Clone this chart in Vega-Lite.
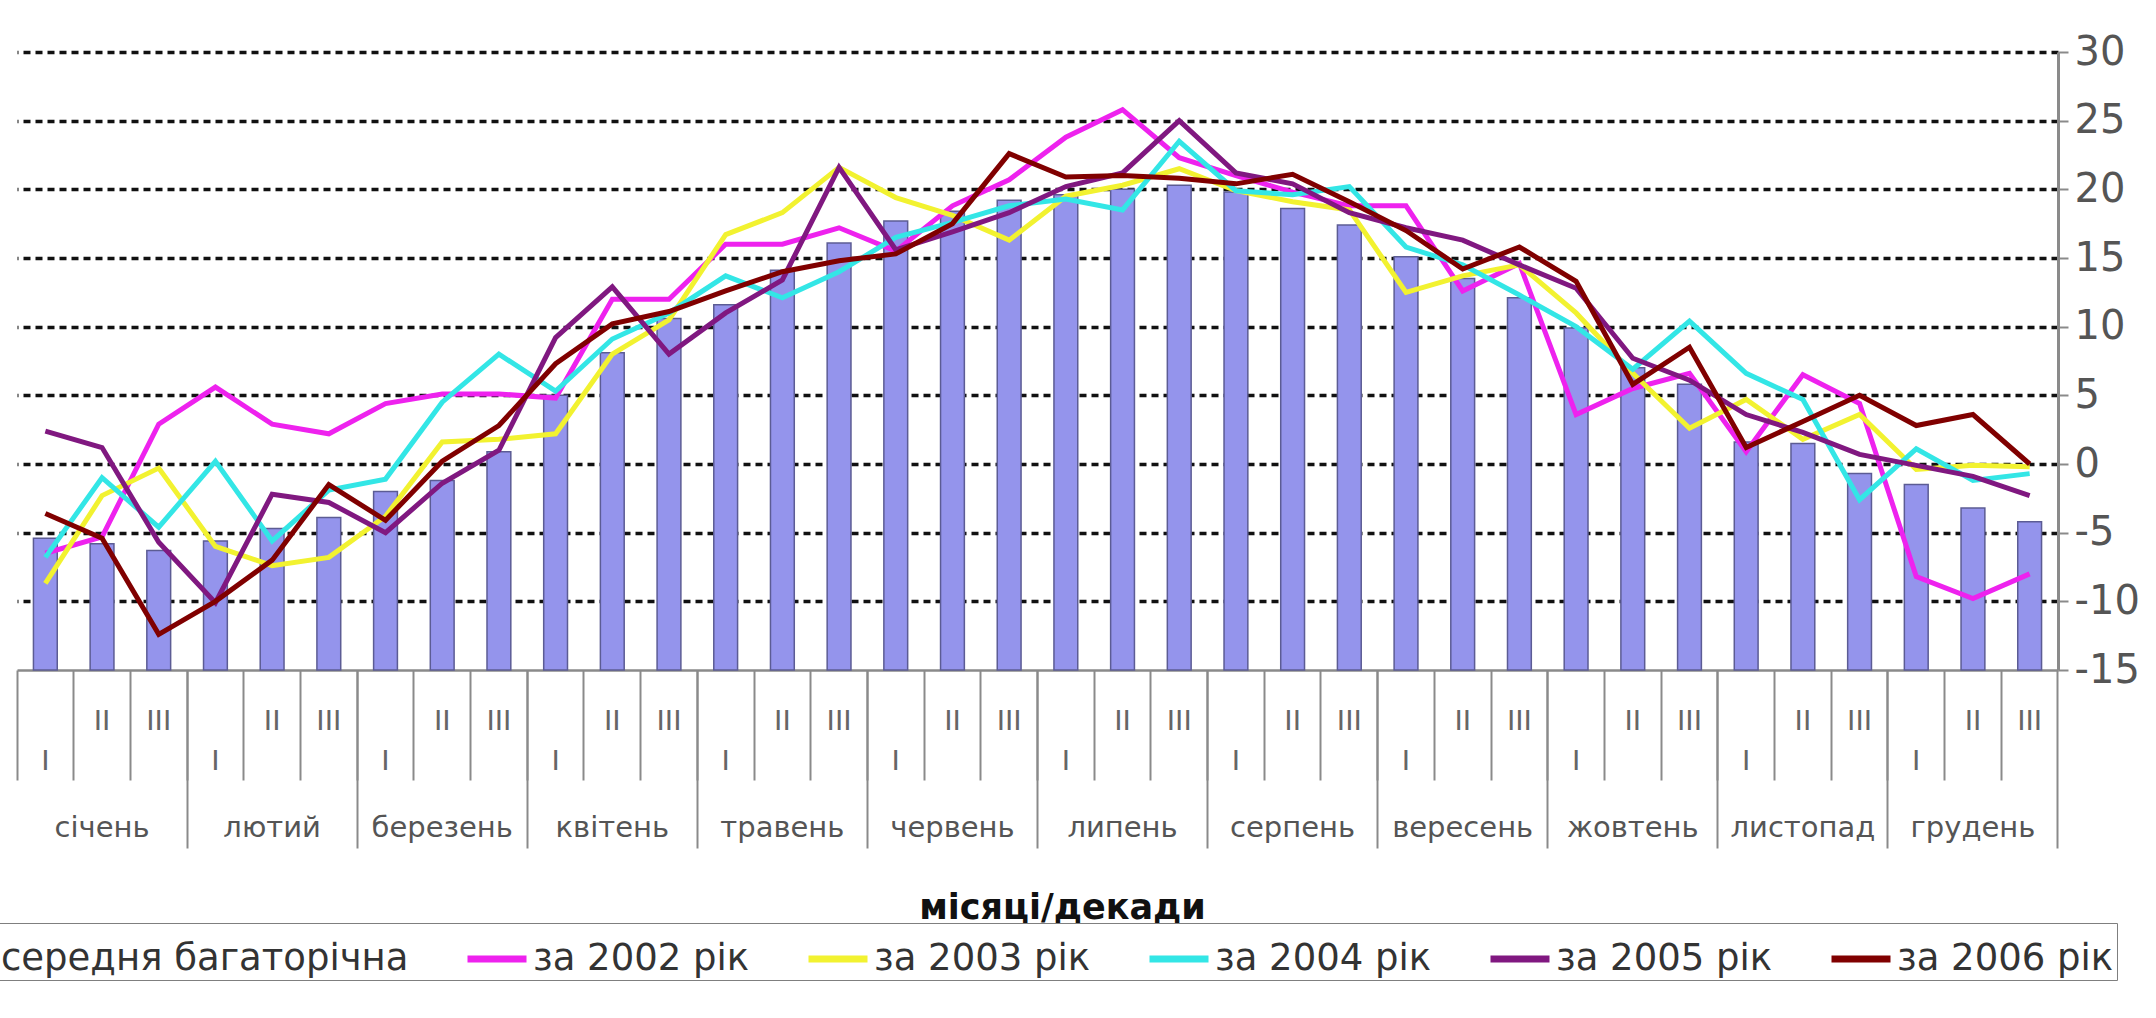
{
  "$schema": "https://vega.github.io/schema/vega-lite/v6.json",
  "width": 2041,
  "height": 618,
  "autosize": {"type": "none"},
  "padding": {"left": 17, "top": 52, "right": 98, "bottom": 348},
  "background": "white",
  "config": {"view": {"stroke": null}},
  "data": {
    "values": [
      {"d": "1 I", "avg": -5.4, "за 2002 рік": -6.5, "за 2003 рік": -8.7, "за 2004 рік": -6.8, "за 2005 рік": 2.4, "за 2006 рік": -3.6},
      {"d": "1 II", "avg": -5.8, "за 2002 рік": -5.3, "за 2003 рік": -2.3, "за 2004 рік": -1.0, "за 2005 рік": 1.2, "за 2006 рік": -5.4},
      {"d": "1 III", "avg": -6.3, "за 2002 рік": 2.9, "за 2003 рік": -0.3, "за 2004 рік": -4.6, "за 2005 рік": -5.7, "за 2006 рік": -12.4},
      {"d": "2 I", "avg": -5.6, "за 2002 рік": 5.6, "за 2003 рік": -6.0, "за 2004 рік": 0.2, "за 2005 рік": -10.1, "за 2006 рік": -10.0},
      {"d": "2 II", "avg": -4.7, "за 2002 рік": 2.9, "за 2003 рік": -7.4, "за 2004 рік": -5.6, "за 2005 рік": -2.2, "за 2006 рік": -7.0},
      {"d": "2 III", "avg": -3.9, "за 2002 рік": 2.2, "за 2003 рік": -6.8, "за 2004 рік": -1.9, "за 2005 рік": -2.8, "за 2006 рік": -1.5},
      {"d": "3 I", "avg": -2.0, "за 2002 рік": 4.4, "за 2003 рік": -3.8, "за 2004 рік": -1.1, "за 2005 рік": -5.0, "за 2006 рік": -4.1},
      {"d": "3 II", "avg": -1.2, "за 2002 рік": 5.1, "за 2003 рік": 1.6, "за 2004 рік": 4.5, "за 2005 рік": -1.4, "за 2006 рік": 0.2},
      {"d": "3 III", "avg": 0.9, "за 2002 рік": 5.1, "за 2003 рік": 1.8, "за 2004 рік": 8.0, "за 2005 рік": 1.0, "за 2006 рік": 2.8},
      {"d": "4 I", "avg": 5.0, "за 2002 рік": 4.8, "за 2003 рік": 2.2, "за 2004 рік": 5.3, "за 2005 рік": 9.2, "за 2006 рік": 7.3},
      {"d": "4 II", "avg": 8.1, "за 2002 рік": 12.0, "за 2003 рік": 8.0, "за 2004 рік": 9.1, "за 2005 рік": 12.9, "за 2006 рік": 10.2},
      {"d": "4 III", "avg": 10.6, "за 2002 рік": 12.0, "за 2003 рік": 10.5, "за 2004 рік": 11.0, "за 2005 рік": 8.0, "за 2006 рік": 11.1},
      {"d": "5 I", "avg": 11.6, "за 2002 рік": 16.0, "за 2003 рік": 16.7, "за 2004 рік": 13.7, "за 2005 рік": 11.0, "за 2006 рік": 12.6},
      {"d": "5 II", "avg": 14.1, "за 2002 рік": 16.0, "за 2003 рік": 18.3, "за 2004 рік": 12.1, "за 2005 рік": 13.4, "за 2006 рік": 14.0},
      {"d": "5 III", "avg": 16.1, "за 2002 рік": 17.2, "за 2003 рік": 21.6, "за 2004 рік": 14.0, "за 2005 рік": 21.6, "за 2006 рік": 14.8},
      {"d": "6 I", "avg": 17.7, "за 2002 рік": 15.5, "за 2003 рік": 19.4, "за 2004 рік": 16.5, "за 2005 рік": 15.6, "за 2006 рік": 15.3},
      {"d": "6 II", "avg": 18.4, "за 2002 рік": 18.8, "за 2003 рік": 18.1, "за 2004 рік": 17.6, "за 2005 рік": 16.9, "за 2006 рік": 17.5},
      {"d": "6 III", "avg": 19.2, "за 2002 рік": 20.7, "за 2003 рік": 16.3, "за 2004 рік": 18.8, "за 2005 рік": 18.3, "за 2006 рік": 22.6},
      {"d": "7 I", "avg": 19.6, "за 2002 рік": 23.8, "за 2003 рік": 19.5, "за 2004 рік": 19.3, "за 2005 рік": 20.2, "за 2006 рік": 20.9},
      {"d": "7 II", "avg": 20.0, "за 2002 рік": 25.8, "за 2003 рік": 20.3, "за 2004 рік": 18.5, "за 2005 рік": 21.2, "за 2006 рік": 21.0},
      {"d": "7 III", "avg": 20.3, "за 2002 рік": 22.3, "за 2003 рік": 21.5, "за 2004 рік": 23.5, "за 2005 рік": 25.0, "за 2006 рік": 20.8},
      {"d": "8 I", "avg": 19.8, "за 2002 рік": 21.0, "за 2003 рік": 19.9, "за 2004 рік": 19.9, "за 2005 рік": 21.2, "за 2006 рік": 20.4},
      {"d": "8 II", "avg": 18.6, "за 2002 рік": 19.8, "за 2003 рік": 19.1, "за 2004 рік": 19.6, "за 2005 рік": 20.4, "за 2006 рік": 21.1},
      {"d": "8 III", "avg": 17.4, "за 2002 рік": 18.8, "за 2003 рік": 18.5, "за 2004 рік": 20.2, "за 2005 рік": 18.3, "за 2006 рік": 19.1},
      {"d": "9 I", "avg": 15.1, "за 2002 рік": 18.8, "за 2003 рік": 12.5, "за 2004 рік": 15.8, "за 2005 рік": 17.2, "за 2006 рік": 17.0},
      {"d": "9 II", "avg": 13.5, "за 2002 рік": 12.6, "за 2003 рік": 13.7, "за 2004 рік": 14.5, "за 2005 рік": 16.3, "за 2006 рік": 14.2},
      {"d": "9 III", "avg": 12.1, "за 2002 рік": 14.6, "за 2003 рік": 14.5, "за 2004 рік": 12.3, "за 2005 рік": 14.5, "за 2006 рік": 15.8},
      {"d": "10 I", "avg": 9.9, "за 2002 рік": 3.6, "за 2003 рік": 11.0, "за 2004 рік": 10.0, "за 2005 рік": 12.8, "за 2006 рік": 13.3},
      {"d": "10 II", "avg": 7.0, "за 2002 рік": 5.5, "за 2003 рік": 6.6, "за 2004 рік": 6.9, "за 2005 рік": 7.7, "за 2006 рік": 5.8},
      {"d": "10 III", "avg": 5.8, "за 2002 рік": 6.6, "за 2003 рік": 2.6, "за 2004 рік": 10.4, "за 2005 рік": 6.1, "за 2006 рік": 8.5},
      {"d": "11 I", "avg": 1.6, "за 2002 рік": 0.9, "за 2003 рік": 4.7, "за 2004 рік": 6.6, "за 2005 рік": 3.6, "за 2006 рік": 1.2},
      {"d": "11 II", "avg": 1.5, "за 2002 рік": 6.5, "за 2003 рік": 1.8, "за 2004 рік": 4.7, "за 2005 рік": 2.3, "за 2006 рік": 3.1},
      {"d": "11 III", "avg": -0.7, "за 2002 рік": 4.4, "за 2003 рік": 3.6, "за 2004 рік": -2.6, "за 2005 рік": 0.7, "за 2006 рік": 5.0},
      {"d": "12 I", "avg": -1.5, "за 2002 рік": -8.2, "за 2003 рік": -0.4, "за 2004 рік": 1.1, "за 2005 рік": -0.1, "за 2006 рік": 2.8},
      {"d": "12 II", "avg": -3.2, "за 2002 рік": -9.8, "за 2003 рік": -0.1, "за 2004 рік": -1.2, "за 2005 рік": -0.9, "за 2006 рік": 3.6},
      {"d": "12 III", "avg": -4.2, "за 2002 рік": -8.0, "за 2003 рік": -0.2, "за 2004 рік": -0.7, "за 2005 рік": -2.3, "за 2006 рік": 0.0}
    ]
  },
  "layer": [
    {
      "mark": {"type": "bar", "width": {"band": 0.42}, "fill": "#9494ec", "stroke": "#5c5c94", "strokeWidth": 1.5},
      "encoding": {
        "x": {
          "field": "d", "type": "nominal", "sort": null,
          "scale": {"domain": ["1 I","1 II","1 III","2 I","2 II","2 III","3 I","3 II","3 III","4 I","4 II","4 III","5 I","5 II","5 III","6 I","6 II","6 III","7 I","7 II","7 III","8 I","8 II","8 III","9 I","9 II","9 III","10 I","10 II","10 III","11 I","11 II","11 III","12 I","12 II","12 III"], "paddingInner": 0, "paddingOuter": 0},
          "axis": {
            "orient": "bottom", "title": null, "bandPosition": 0,
            "domainColor": "#8a8a8a", "domainWidth": 2.5,
            "tickColor": "#8a8a8a", "tickWidth": 2, "tickSize": 110,
            "labelExpr": "split(datum.value, ' ')[1]",
            "labelAngle": 0, "labelAlign": "center", "labelBaseline": "top",
            "labelPadding": {"condition": {"test": "split(datum.value, ' ')[1] == 'I'", "value": -35}, "value": -75},
            "labelFont": "Liberation Sans", "labelFontSize": 30, "labelColor": "#666",
            "labelOverlap": false, "labelBound": false, "labelFlush": false, "grid": false
          }
        },
        "y": {
          "field": "avg", "type": "quantitative",
          "scale": {"domain": [-15, 30], "nice": false, "zero": false},
          "axis": {
            "orient": "right", "title": null,
            "values": [-15, -10, -5, 0, 5, 10, 15, 20, 25, 30],
            "labelExpr": "'' + datum.value",
            "grid": true, "gridColor": "#111111", "gridDash": [7, 5], "gridWidth": 3.5,
            "gridOpacity": {"condition": {"test": "datum.value == -15", "value": 0}, "value": 1},
            "domainColor": "#8a8a8a", "domainWidth": 3,
            "tickColor": "#8a8a8a", "tickWidth": 2, "tickSize": 10,
            "labelFont": "DejaVu Sans", "labelFontSize": 40, "labelColor": "#555",
            "labelPadding": 6, "labelBaseline": "middle", "labelFlush": false, "labelBound": false, "labelOverlap": false
          }
        },
        "y2": {"datum": -15}
      }
    },
    {
      "transform": [{"fold": ["за 2002 рік", "за 2003 рік", "за 2004 рік", "за 2005 рік", "за 2006 рік"], "as": ["s", "v"]}],
      "mark": {"type": "line", "strokeWidth": 5},
      "encoding": {
        "x": {
          "field": "d", "type": "nominal", "sort": null,
          "scale": {"domain": ["1 I","1 II","1 III","2 I","2 II","2 III","3 I","3 II","3 III","4 I","4 II","4 III","5 I","5 II","5 III","6 I","6 II","6 III","7 I","7 II","7 III","8 I","8 II","8 III","9 I","9 II","9 III","10 I","10 II","10 III","11 I","11 II","11 III","12 I","12 II","12 III"], "paddingInner": 0, "paddingOuter": 0},
          "axis": {
            "orient": "bottom",
            "values": ["1 III","2 III","3 III","4 III","5 III","6 III","7 III","8 III","9 III","10 III","11 III","12 III"],
            "bandPosition": 1, "domain": false,
            "tickColor": "#8a8a8a", "tickWidth": 2, "tickSize": 178,
            "labelExpr": "['січень','лютий','березень','квітень','травень','червень','липень','серпень','вересень','жовтень','листопад','грудень'][toNumber(split(datum.value, ' ')[0]) - 1]",
            "labelOffset": -56.7, "labelAngle": 0, "labelAlign": "center", "labelBaseline": "top",
            "labelPadding": -35,
            "labelFont": "DejaVu Sans", "labelFontSize": 29, "labelColor": "#555",
            "labelOverlap": false, "labelBound": false, "labelFlush": false, "grid": false,
            "title": "місяці/декади", "titleFont": "DejaVu Sans", "titleFontSize": 35, "titleFontWeight": "bold",
            "titleColor": "#111", "titleX": 1045, "titleY": 237, "titleAlign": "center", "titleBaseline": "middle"
          }
        },
        "y": {
          "field": "v", "type": "quantitative",
          "scale": {"domain": [-15, 30], "nice": false, "zero": false},
          "axis": null
        },
        "color": {
          "field": "s", "type": "nominal",
          "scale": {
            "domain": ["середня багаторічна", "за 2002 рік", "за 2003 рік", "за 2004 рік", "за 2005 рік", "за 2006 рік"],
            "range": ["#9494ec", "#ee22ee", "#f2f230", "#33e6e6", "#801880", "#800000"]
          },
          "legend": {
            "orient": "none", "legendX": -88, "legendY": 871, "direction": "horizontal", "title": null,
            "symbolType": "stroke", "symbolSize": 3481, "symbolStrokeWidth": 7,
            "labelFont": "DejaVu Sans", "labelFontSize": 37, "labelColor": "#333", "labelOffset": 3, "labelLimit": 0,
            "columnPadding": 44, "padding": 3, "strokeColor": "#7f7f7f"
          }
        }
      }
    }
  ],
  "resolve": {"axis": {"x": "independent", "y": "independent"}}
}
